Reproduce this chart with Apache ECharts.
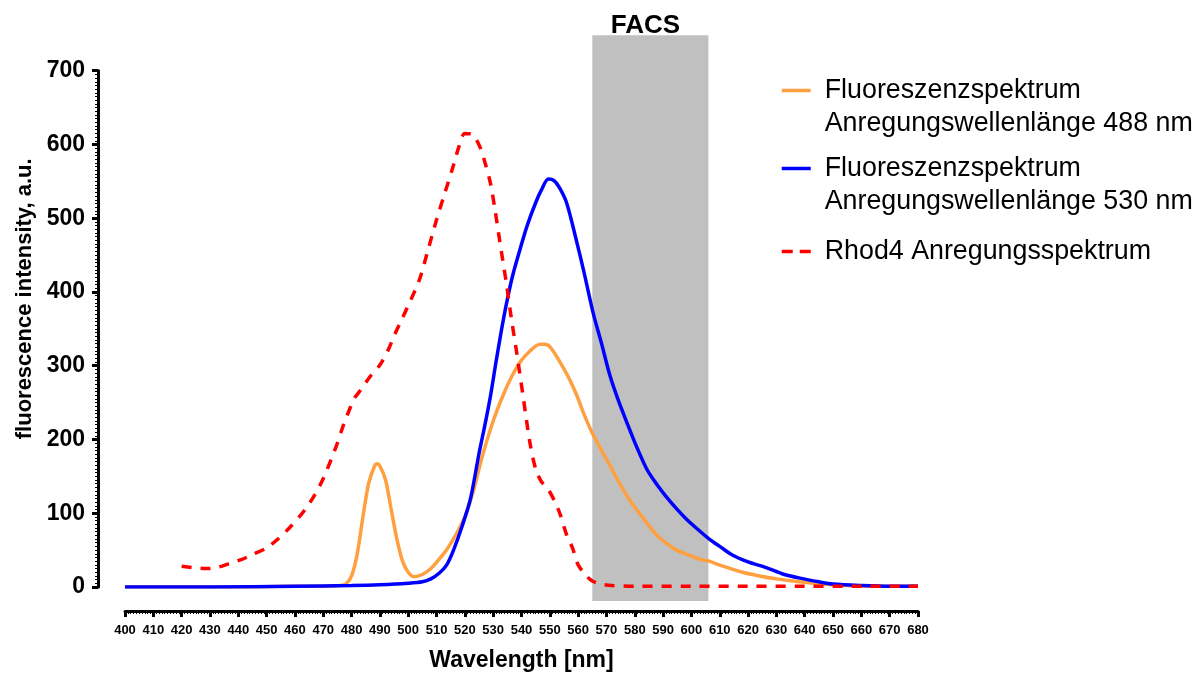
<!DOCTYPE html>
<html><head><meta charset="utf-8">
<script src="https://cdn.jsdelivr.net/npm/echarts@6/dist/echarts.min.js"></script>
<style>html,body{margin:0;padding:0;background:#fff}#c{width:1202px;height:677px}</style>
</head><body><div id="c"></div>
<script>
const FONT = '"Liberation Sans", Arial, sans-serif';

// Fluoreszenzspektrum, Anregung 488 nm
const ex488Nm  = [400,420,440,460,470,476,478,480,482,484,486,488,489,490,492,494,496,498,500,502,505,508,511,514,517,520,523,526,530,533.5,536.5,539.5,543,546.5,548,550,553.6,556.5,559.5,562,564.8,568,571.2,574,577.1,580,583,586,588.9,592,594.8,598,600.6,603.5,606.3,609,612.2,618,624,630,638,646,655,665,680];
const ex488Val = [0,0,0,1,1,2,4,15,45,95,140,163,167,164,145,105,65,35,20,14,17,25,38,53,72,95,130,175,225,260,285,305,320,329,329,326,305,285,260,235,210,187,165,145,124,108,93,78,66,57,50,45,41,37,35,31,27,20,15,11,7,4,2,1,1];

// Fluoreszenzspektrum, Anregung 530 nm
const ex530Nm  = [400,430,460,480,490,500,505,508,511,513.6,516,519,522,525,527,529,531,533,535,537,539.5,542,545,547,549.5,551.5,553.6,556,559.5,562,565.4,568,571.2,574,577.1,580,584.2,588,591,594.8,598,602,606.3,610,614.6,620,626.6,632,638.3,645,650,660,670,680];
const ex530Val = [0,0,1,2,3,5,7,11,19,30,50,82,120,181,218,258,305,350,390,424,458,490,521,538,553,551,540,520,468,428,370,334,287,255,224,196,160,138,123,106,93,79,65,55,43,34,26,18,12,7,4,2,1,1];

// Rhod4 Anregungsspektrum
const rhodNm  = [420,425,429,433,437,441,445,450,454,458,463,467,470,474.7,477,479.4,481,483,486.5,490,493,495.3,498,501,504,507,510,513,516,518,520,522.4,525.3,527,529,530.5,532.4,534.8,536.5,538.3,540.7,543,545,547,549.3,551.5,553.6,556,558,560,563,565,568,572,580,600,620,640,660,680];
const rhodVal = [28,26,25,27,32,37,44,53,65,80,102,125,147,192,218,242,256,266,285,301,322,343,365,390,417,457,498,535,572,598,615,614,597,577,548,515,467,408,362,318,255,195,160,143,133,118,99,70,53,30,15,8,4,2,1,1,1,1,1,1];

// FACS detection window (nm) and drawn intensity extent
const facsNm = [565, 606];
const facsExtent = [-19, 748];

const seriesNames = [
  'Fluoreszenzspektrum\nAnregungswellenlänge 488 nm',
  'Fluoreszenzspektrum\nAnregungswellenlänge 530 nm',
  'Rhod4 Anregungsspektrum'
];
const seriesColors = ['#FFA040', '#0000FF', '#FF0000'];

const pairs = (xs, ys) => xs.map((x, i) => [x, ys[i]]);

const legendText = { color: '#000', fontFamily: FONT, fontSize: 26.8, lineHeight: 33, padding: [0, 0, 0, 9] };
const legendBase = {
  orient: 'vertical', left: 780, padding: 0, itemWidth: 29, itemHeight: 2,
  selectedMode: false, textStyle: legendText,
  itemStyle: { opacity: 0, borderWidth: 0 }, lineStyle: { width: 3.5 }
};
// a leading blank line keeps the icon level with the first text line
const twoLine = (name) => ' \n' + name;

const chart = echarts.init(document.getElementById('c'));
chart.setOption({
  animation: false,
  backgroundColor: '#fff',
  grid: { left: 125, right: 284, top: 70.7, bottom: 88 },
  xAxis: {
    type: 'value', min: 400, max: 680, interval: 10, offset: 24,
    axisLine: { show: true, onZero: false, lineStyle: { color: '#000', width: 3 } },
    axisTick: { show: true, length: 6, lineStyle: { color: '#000', width: 3 } },
    minorTick: { show: true, splitNumber: 10, length: 3, lineStyle: { color: '#000', width: 1 } },
    splitLine: { show: false }, minorSplitLine: { show: false },
    axisLabel: { color: '#000', fontFamily: FONT, fontWeight: 'bold', fontSize: 13, margin: 13 },
    name: 'Wavelength [nm]', nameLocation: 'middle', nameGap: 38,
    nameTextStyle: { color: '#000', fontFamily: FONT, fontWeight: 'bold', fontSize: 23 }
  },
  yAxis: {
    type: 'value', min: 0, max: 700, interval: 100, offset: 27,
    axisLine: { show: true, onZero: false, lineStyle: { color: '#000', width: 3 } },
    axisTick: { show: true, length: 6, lineStyle: { color: '#000', width: 3 } },
    minorTick: { show: true, splitNumber: 20, length: 3, lineStyle: { color: '#000', width: 1 } },
    splitLine: { show: false }, minorSplitLine: { show: false },
    axisLabel: { color: '#000', fontFamily: FONT, fontWeight: 'bold', fontSize: 23, margin: 13 },
    name: 'fluorescence intensity, a.u.', nameLocation: 'middle', nameGap: 61,
    nameTextStyle: { color: '#000', fontFamily: FONT, fontWeight: 'bold', fontSize: 22, padding: [0, 0, 0, 60] }
  },
  legend: [
    Object.assign({}, legendBase, { top: 41, data: [seriesNames[0]], formatter: twoLine }),
    Object.assign({}, legendBase, { top: 119, data: [seriesNames[1]], formatter: twoLine }),
    Object.assign({}, legendBase, { top: 235, data: [seriesNames[2]],
      lineStyle: { width: 3.5, type: [11, 7] } })
  ],
  series: [
    {
      type: 'custom', name: 'FACS', z: 1, silent: true, clip: false,
      data: [[facsNm[0], facsNm[1], facsExtent[0], facsExtent[1]]],
      encode: { x: [0, 1], y: [2, 3] },
      renderItem: function (params, api) {
        const p0 = api.coord([api.value(0), api.value(3)]);
        const p1 = api.coord([api.value(1), api.value(2)]);
        return {
          type: 'group',
          children: [
            { type: 'rect', shape: { x: p0[0], y: p0[1], width: p1[0] - p0[0], height: p1[1] - p0[1] },
              style: { fill: '#C0C0C0' } },
            { type: 'text', x: (p0[0] + p1[0]) / 2 - 5, y: p0[1] + 4,
              style: { text: 'FACS', fill: '#000', font: 'bold 26px ' + FONT, align: 'center', verticalAlign: 'bottom' } }
          ]
        };
      }
    },
    {
      type: 'line', name: seriesNames[0], data: pairs(ex488Nm, ex488Val), z: 3,
      symbol: 'none', smooth: 0.3, lineStyle: { color: seriesColors[0], width: 3.5 }, itemStyle: { color: seriesColors[0] }
    },
    {
      type: 'line', name: seriesNames[1], data: pairs(ex530Nm, ex530Val), z: 4,
      symbol: 'none', smooth: 0.3, lineStyle: { color: seriesColors[1], width: 3.5 }, itemStyle: { color: seriesColors[1] }
    },
    {
      type: 'line', name: seriesNames[2], data: pairs(rhodNm, rhodVal), z: 5,
      symbol: 'none', smooth: 0.3, lineStyle: { color: seriesColors[2], width: 3.5, type: [10, 9] }, itemStyle: { color: seriesColors[2] }
    }
  ]
});
</script></body></html>
